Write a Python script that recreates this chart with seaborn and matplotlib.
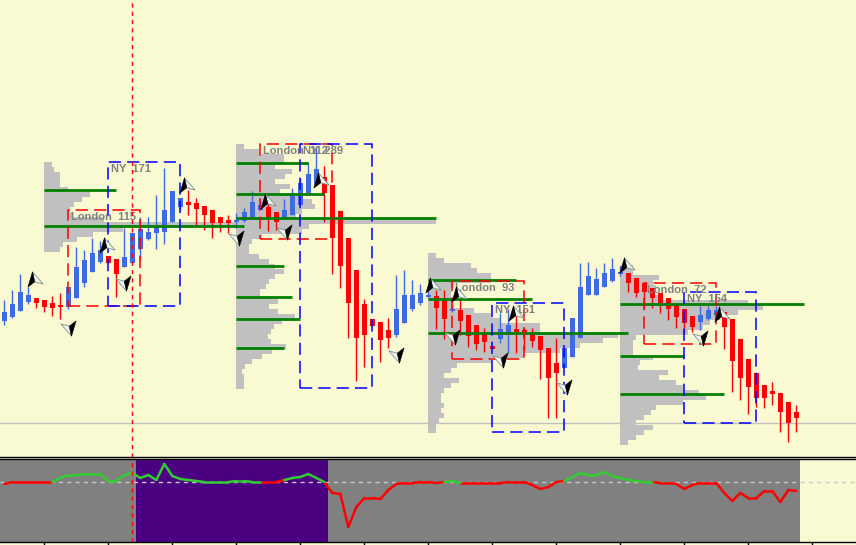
import numpy as np
import pandas as pd
import seaborn as sns
import matplotlib.pyplot as plt
from matplotlib.patches import Rectangle

# ---- price bars (chart points) ----
opens = [139, 143, 149, 158, 162, 160, 157, 155, 153, 162, 177, 188, 198, 204, 201, 193, 197, 211, 221, 227,
         228, 238, 253, 258, 257, 254, 250, 243, 240, 238, 239, 243, 250, 253, 248, 242, 245, 255, 267, 275,
         283, 275, 249, 222, 190, 156, 141, 138, 130, 125, 137, 151, 157, 163, 164, 159, 149, 150, 145, 135,
         127, 114, 121, 126, 131, 130, 127, 124, 112, 97, 92, 103, 122, 165, 165, 173, 179, 186, 187, 182,
         177, 172, 167, 162, 155, 151, 144, 138, 141, 145, 148, 141, 121, 101, 87, 75, 69, 67, 58, 48]
highs = [160, 170, 186, 173, 162, 160, 164, 167, 173, 213, 210, 222, 219, 204, 201, 232, 227, 243, 243, 265,
         292, 269, 262, 270, 262, 254, 250, 243, 245, 247, 252, 269, 262, 263, 248, 261, 272, 282, 298, 312,
         294, 275, 249, 222, 190, 161, 141, 138, 142, 185, 190, 180, 176, 170, 170, 170, 154, 161, 145, 135,
         132, 114, 147, 151, 150, 132, 132, 124, 112, 122, 112, 142, 197, 198, 192, 197, 202, 194, 187, 182,
         177, 172, 167, 162, 155, 151, 144, 154, 154, 154, 148, 141, 121, 101, 87, 75, 78, 67, 58, 55]
lows = [135, 142, 149, 156, 152, 148, 144, 141, 151, 162, 173, 188, 197, 197, 163, 193, 197, 200, 220, 211,
        216, 238, 250, 245, 235, 230, 222, 228, 227, 232, 238, 243, 250, 229, 230, 241, 245, 255, 267, 275,
        238, 186, 172, 122, 79, 93, 134, 98, 112, 123, 137, 149, 155, 162, 131, 121, 148, 125, 113, 110,
        108, 111, 117, 107, 107, 110, 113, 81, 42, 42, 92, 103, 122, 165, 165, 173, 178, 184, 168, 163,
        152, 152, 147, 140, 132, 127, 128, 130, 140, 144, 111, 68, 60, 46, 53, 52, 55, 28, 18, 28]
closes = [148, 156, 168, 165, 157, 153, 152, 153, 173, 193, 200, 207, 210, 197, 186, 203, 227, 231, 228, 233,
          250, 269, 262, 255, 251, 245, 237, 237, 237, 240, 248, 258, 255, 242, 238, 250, 266, 277, 286, 291,
          267, 222, 194, 157, 122, 125, 134, 120, 122, 151, 165, 165, 167, 165, 152, 141, 151, 139, 124, 116,
          118, 111, 131, 135, 128, 128, 119, 110, 82, 87, 112, 142, 173, 184, 181, 187, 191, 188, 177, 167,
          168, 162, 157, 151, 143, 137, 133, 145, 150, 150, 133, 99, 82, 73, 62, 62, 66, 48, 37, 42]

# ---- oscillator (lower window) ----
osc = [-2, 0, 0, 0, 0, 0, 0, 4, 7, 7, 8, 8, 8, 1, 1, 7, 9, 4, 7, 2,
       18, 6, 3, 2, 1, 0, 0, 0, 0, 1, 1, 0, 0, 0, 0, 2, 4, 5, 8, 4,
       0, -11, -12, -45, -25, -16, -16, -17, -8, -2, -1, -1, 0, 0, -1, 0, 1, -1, -1, -1,
       -1, -1, -1, 0, 0, 0, -3, -7, -5, 0, 1, 5, 9, 7, 7, 10, 6, 4, 2, 1,
       0, 0, -1, -1, -2, -7, -3, -1, -1, -1, -11, -19, -11, -16, -16, -9, -9, -20, -8, -9]
osc_up_ranges = [(6, 31), (35, 39), (55, 56), (70, 80)]

# ---- daily volume profiles ----
prof_start = [5, 29, 53, 77]
prof_top = [298, 316, 207, 195]
prof_vol = [
    [8, 10, 16, 16, 16, 24, 46, 38, 30, 26, 28, 60, 193, 79, 49, 33, 19, 16],
    [8, 23, 48, 48, 39, 56, 49, 39, 54, 44, 63, 76, 79, 66, 60, 200, 73, 66, 26, 16,
     13, 13, 23, 33, 39, 48, 39, 33, 30, 24, 24, 42, 33, 42, 59, 46, 38, 35, 32, 35,
     50, 36, 26, 16, 9, 6, 8, 8, 8],
    [8, 16, 43, 49, 63, 63, 26, 23, 23, 23, 26, 46, 63, 73, 112, 112, 190, 175, 152, 132,
     96, 63, 29, 23, 16, 31, 23, 16, 13, 13, 16, 13, 16, 11, 8, 8],
    [13, 13, 39, 33, 36, 30, 39, 128, 143, 118, 100, 90, 83, 68, 16, 13, 13, 13, 33, 20,
     18, 48, 39, 56, 63, 79, 86, 63, 36, 31, 24, 16, 33, 24, 16, 8],
]
# key levels of each profile and the bar where each line stops
prof_levels = [[270, 234], [297, 266, 242, 194, 163, 141, 112], [180, 161, 127], [156, 104, 66]]
prof_level_end = [[14, 30], [38, 40, 54, 35, 36, 37, 35], [64, 66, 78], [100, 85, 90]]

# ---- session boxes ----
sess_names = ["London  115", "NY  171", "London  112", "NY  289", "London  93", "NY  151", "London  72", "NY  154"]
sess_from = [8, 13, 32, 37, 56, 61, 80, 85]
sess_to = [17, 22, 41, 46, 65, 70, 89, 94]
sess_high = [250, 298, 316, 316, 179, 157, 177, 168]
sess_low = [154, 154, 221, 72, 101, 28, 116, 37]

# ---- fractal arrows ----
up_bar = [3.8, 12.8, 22.8, 33, 39.6, 53.6, 56.8, 64, 77.8, 89.7]
up_price = [181, 215, 275, 259, 280, 175, 166, 147, 195, 146]
dn_bar = [8, 14.8, 29, 35, 49, 56, 62, 70, 87]
dn_price = [132, 177, 222, 228, 105, 123, 100, 73, 122]

cursor_bar = 16
level_line = 37.5

BG = "#FAFAD2"
BULL = "#4169E1"
BEAR = "#FF0000"
GREEN = "#008000"

sns.set_style("white")
plt.rcParams["font.family"] = ["Liberation Sans", "DejaVu Sans"]

fig = plt.figure(figsize=(8.56, 5.45), dpi=100, facecolor=BG)
ax = fig.add_axes([0, 88 / 545, 1, 457 / 545])
axl = fig.add_axes([0, 3 / 545, 1, 83 / 545])

xl = (-4.33 / 8, (856 - 4.33) / 8)
for a in (ax, axl):
    a.set_facecolor(BG)
    a.set_xlim(*xl)
    for s in a.spines.values():
        s.set_visible(False)

ax.set_ylim(3, 460)
ax.set_xticks([])
ax.set_yticks([])
ax.spines["bottom"].set_visible(True)
ax.spines["bottom"].set_color("black")
ax.spines["bottom"].set_linewidth(1)

# volume profiles
for k0, top, vol in zip(prof_start, prof_top, prof_vol):
    vol = np.array(vol, dtype=float)
    lev = top - 5 * np.arange(len(vol)) - 2.5
    ax.barh(lev, vol / 8, height=5, left=k0, color="#C0C0C0", linewidth=0, zorder=1)

ax.axhline(level_line, color="#C0C0C0", lw=1, zorder=1)

# candles
o = np.array(opens); c = np.array(closes); h = np.array(highs); l = np.array(lows)
x = np.arange(len(o))
col = np.where(c >= o, BULL, BEAR)
ax.vlines(x, l, h, colors=col, lw=1, zorder=3)
body = np.maximum(np.abs(c - o), 1.2)
ax.bar(x, body, bottom=np.minimum(o, c), width=0.62, color=col, linewidth=0, zorder=3)

# profile levels
for k0, levs, ends in zip(prof_start, prof_levels, prof_level_end):
    for lv, e in zip(levs, ends):
        ax.hlines(lv, k0, e, color=GREEN, lw=2, zorder=4)

# session boxes
for name, a0, a1, hi, lo in zip(sess_names, sess_from, sess_to, sess_high, sess_low):
    ec = BEAR if name.startswith("London") else "#0000FF"
    ax.add_patch(Rectangle((a0, lo), a1 - a0, hi - lo, fill=False, ec=ec, lw=1.1,
                           ls=(0, (8, 4)), zorder=5))
    ax.text(a0 + 0.3, hi - 7, name, color="#808080", fontsize=8, fontweight="bold",
            va="center", ha="left", zorder=6)

# fractal arrows: dark half + light half of a cursor-like glyph
up_dark = [(-0.2, 0.5), (-0.5, -0.5), (-0.05, -0.15), (-0.2, 0.5)]
up_light = [(-0.2, 0.5), (-0.05, -0.15), (0.5, -0.3), (-0.2, 0.5)]
dn_dark = [(-px, -py) for px, py in up_dark]
dn_light = [(-px, -py) for px, py in up_light]
for bars, prices, mk_d, mk_l in ((up_bar, up_price, up_dark, up_light),
                                 (dn_bar, dn_price, dn_dark, dn_light)):
    ax.scatter(bars, prices, marker=mk_l, s=120, c="#EEF6F0", edgecolors="#7f9090", linewidths=0.6, zorder=7)
    ax.scatter(bars, prices, marker=mk_d, s=120, c="black", edgecolors="black", linewidths=0.4, zorder=7)

# lower window
axl.set_ylim(-60, 23)
axl.axvspan(-0.5, len(osc) - 0.5, color="#808080", lw=0, zorder=0)
axl.axvspan(16.5, 40.5, color="#4B0082", lw=0, zorder=0)
axl.axhline(0, color="#C8C8C8", lw=1, ls=(0, (3, 3)), zorder=1)

up_flag = np.zeros(len(osc), dtype=bool)
for a0, a1 in osc_up_ranges:
    up_flag[a0:a1 + 1] = True
rows = []
for i in range(len(osc) - 1):
    d = "up" if up_flag[i] else "down"
    rows.append((i, i, osc[i], d))
    rows.append((i, i + 1, osc[i + 1], d))
seg = pd.DataFrame(rows, columns=["seg", "bar", "value", "dir"])
sns.lineplot(data=seg, x="bar", y="value", hue="dir", units="seg", estimator=None, sort=False,
             palette={"up": "#32CD32", "down": "#FF0000"}, legend=False, lw=1.8, ax=axl, zorder=2)
axl.set_xlim(*xl)
axl.set_xlabel("")
axl.set_ylabel("")
axl.set_yticks([])
axl.set_xticks(np.arange(5, 106, 8))
axl.tick_params(axis="x", direction="out", length=3, width=1, color="black", labelbottom=False, bottom=True)
for s in ("top", "bottom"):
    axl.spines[s].set_visible(True)
    axl.spines[s].set_color("black")
    axl.spines[s].set_linewidth(1)

for a in (ax, axl):
    a.axvline(cursor_bar, color=BEAR, lw=1, ls=(0, (3, 3)), zorder=8)

fig.savefig("out.png", dpi=100, facecolor=BG)
